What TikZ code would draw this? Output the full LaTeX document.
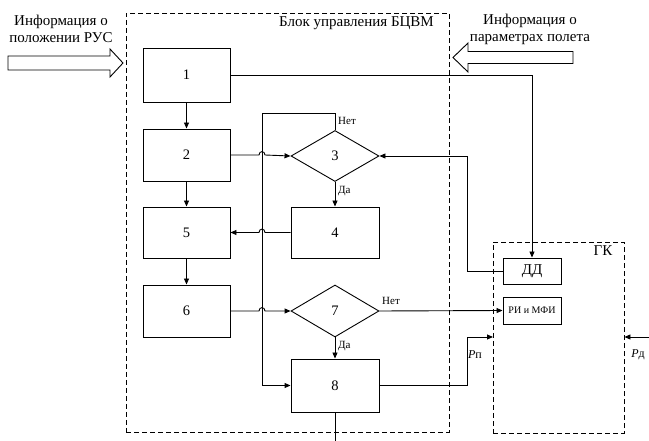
\documentclass[tikz,border=0pt]{standalone}
\usepackage{fontspec}
\setmainfont{Liberation Serif}
\newfontfamily\tms{Liberation Serif}
\usetikzlibrary{shapes.geometric,arrows.meta}
\begin{document}
\begin{tikzpicture}[x=1pt,y=-1pt,
  box/.style={draw, line width=0.9pt, minimum width=87pt, minimum height=52pt, inner sep=0pt, font=\tms\fontsize{14.5}{15}\selectfont},
  dia/.style={draw, diamond, line width=0.9pt, minimum width=88pt, minimum height=51pt, inner sep=0pt, font=\tms\fontsize{14.5}{15}\selectfont},
  con/.style={line width=0.9pt},
  arr/.style={con, -{Triangle[length=6pt,width=5pt]}},
  dashbox/.style={draw, dash pattern=on 5pt off 3pt, line width=0.9pt, inner sep=0pt},
  lbl/.style={font=\tms\fontsize{11}{12}\selectfont, inner sep=1pt},
  big/.style={font=\tms\fontsize{15}{17}\selectfont, align=center, inner sep=0pt},
  hollow/.style={draw, line width=0.9pt, fill=white}
]
\useasboundingbox (0,0) rectangle (649,441);

% dashed frames
\node[dashbox, minimum width=323pt, minimum height=419pt] (blk) at (287.5,222.5) {};
\node[dashbox, minimum width=131pt, minimum height=191pt] (gk) at (558.5,337.5) {};

% texts
\node[big] (t1) at (61,28.5) {Информация о\\положении РУС};
\node[big] (t2) at (530,29) {Информация о\\параметрах полета};
\node[big] (title) at (356.5,23.5) {Блок управления БЦВМ};
\node[big] (gkl) at (603,251) {ГК};

% hollow arrows
\draw[hollow] (8,56) -- (110,56) -- (110,49) -- (123,63) -- (110,77) -- (110,70) -- (8,70) -- cycle;
\draw[hollow] (573,51.5) -- (468,51.5) -- (468,43) -- (453,57.5) -- (468,72) -- (468,63.5) -- (573,63.5) -- cycle;

% blocks
\node[box, minimum height=54pt] (b1) at (186.5,75) {1};
\node[box] (b2) at (186.5,155) {2};
\node[box, minimum height=51pt] (b5) at (186.5,232.5) {5};
\node[box] (b6) at (186.5,311) {6};
\node[dia] (d3) at (335,156) {3};
\node[box, minimum width=88pt, minimum height=51pt] (b4) at (335,232.5) {4};
\node[dia, minimum height=52pt] (d7) at (335,311) {7};
\node[box, minimum width=88pt, minimum height=53pt] (b8) at (335,385.5) {8};
\node[draw, line width=0.9pt, minimum width=58pt, minimum height=26pt, inner sep=0pt, font=\tms\fontsize{15}{15}\selectfont] (dd) at (532,271) {ДД};
\node[draw, line width=0.9pt, minimum width=58pt, minimum height=27pt, inner sep=0pt, font=\tms\fontsize{10}{11}\selectfont] (ri) at (532,310.5) {РИ и МФИ};

\coordinate (pin) at (493,337);
\coordinate (pdin) at (649,337);
\coordinate (bot) at (335,441);

% vertical flow
\draw[arr] (b1) -- (b2);
\draw[arr] (b2) -- (b5);
\draw[arr] (b5) -- (b6);
\draw[arr] (d3) -- (b4);
\draw[arr] (d7) -- (b8);
\draw[con] (b8) -- (bot);

% horizontal with hops
\draw[arr] (b2.east) -- (259,155) .. controls (259,150.5) and (265,150.5) .. (265,155) -- (d3.west);
\draw[arr] (b4.west) -- (265,232.5) .. controls (265,228) and (259,228) .. (259,232.5) -- (b5.east);
\draw[arr] (b6.east) -- (259,311) .. controls (259,306.5) and (265,306.5) .. (265,311) -- (d7.west);

% feedback loop from 3 (Нет) to 8
\draw[arr] (d3.north) -- (335,113) -- (262,113) |- (b8.west);

% links with GK
\draw[arr] (b1.east) -| (dd.north);
\draw[arr] (dd.west) -- (467,271) |- (d3.east);
\draw[arr] (d7.east) -- (ri.west);
\draw[arr] (b8.east) -- (467,385.5) |- (pin);
\draw[arr] (pdin) -- (gk.east |- pdin);

% labels
\node[lbl, anchor=west] (l3n) at (337,121) {Нет};
\node[lbl, anchor=west] (l3d) at (337,191) {Да};
\node[lbl, anchor=west] (l7d) at (337,346) {Да};
\node[lbl, anchor=west] (l7n) at (381,301) {Нет};
\node[lbl, font=\tms\fontsize{12}{13}\selectfont] (lpp) at (475,355) {\textit{P}п};
\node[lbl, font=\tms\fontsize{12}{13}\selectfont] (lpd) at (638,355) {\textit{P}д};
\end{tikzpicture}
\end{document}
